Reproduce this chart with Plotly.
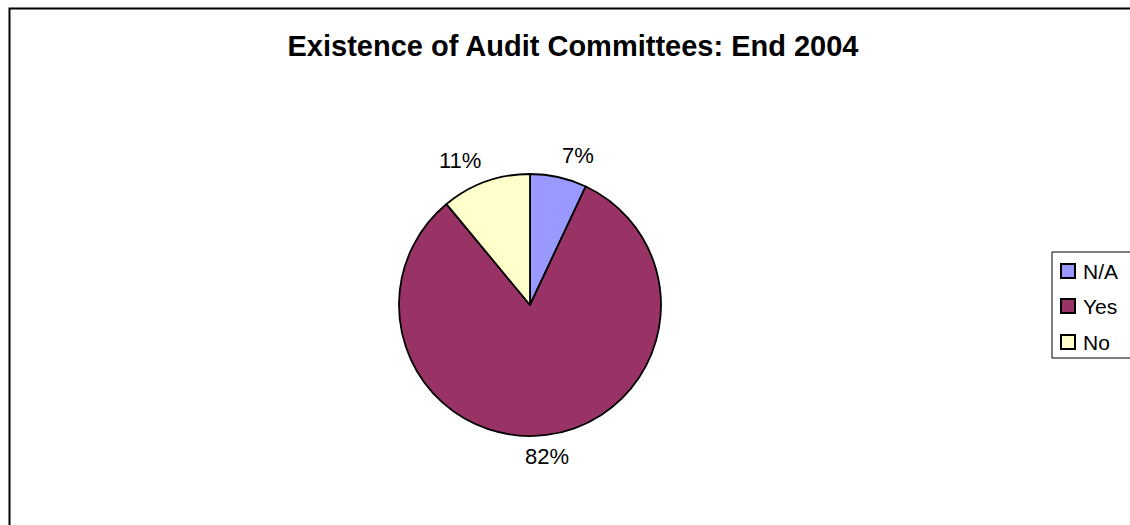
import math
import plotly.graph_objects as go

# Survey answers on audit committees, end of 2004
categories = ["N/A", "Yes", "No"]
shares = [7, 82, 11]
colors = ["#9999FF", "#993366", "#FFFFCC"]

W, H = 1130, 525
cx, cy, r = 530, 305, 131  # pie centre and radius in pixels
FONT = "Liberation Sans, Arial"


def px(x):
    return x / W


def py(y):
    return 1 - y / H


fig = go.Figure(
    go.Pie(
        labels=categories,
        values=shares,
        sort=False,
        direction="clockwise",
        rotation=0,
        marker=dict(colors=colors, line=dict(color="black", width=1.8)),
        textinfo="none",
        hoverinfo="label+percent",
        domain=dict(x=[px(cx - r), px(cx + r)], y=[py(cy + r), py(cy - r)]),
        showlegend=False,
    )
)

# percentage labels anchored just outside each slice's mid-angle
total = sum(shares)
start = 0.0
annotations = []
for cat, v in zip(categories, shares):
    frac = v / total
    mid = (start + frac / 2) * 2 * math.pi
    start += frac
    s, c = math.sin(mid), math.cos(mid)
    dist = r + 7
    xa = "left" if s > 0.2 else ("right" if s < -0.2 else "center")
    ya = "bottom" if c > 0 else "top"
    annotations.append(dict(
        x=px(cx + dist * s), y=py(cy - dist * c),
        xref="paper", yref="paper",
        text=f"{round(frac * 100)}%", showarrow=False,
        xanchor=xa, yanchor=ya,
        font=dict(family=FONT, size=22, color="black"),
    ))

# legend box with square swatches
shapes = [dict(
    type="rect", xref="paper", yref="paper",
    x0=px(1052), x1=1.05, y0=py(358), y1=py(252),
    line=dict(color="black", width=1), fillcolor="white", layer="above",
)]
row_y = [271, 306, 342]
for cat, col, yy in zip(categories, colors, row_y):
    shapes.append(dict(
        type="rect", xref="paper", yref="paper",
        x0=px(1061), x1=px(1075), y0=py(yy + 7), y1=py(yy - 7),
        line=dict(color="black", width=2), fillcolor=col, layer="above",
    ))
    annotations.append(dict(
        x=px(1081), y=py(yy), xref="paper", yref="paper",
        text=cat, showarrow=False, xanchor="left", yanchor="middle",
        font=dict(family=FONT, size=21, color="black"),
    ))

# outer chart frame
shapes.append(dict(
    type="rect", xref="paper", yref="paper",
    x0=px(9.5), x1=1.05, y0=-0.05, y1=py(8.5),
    line=dict(color="black", width=2), fillcolor="rgba(0,0,0,0)",
    layer="above",
))

fig.update_layout(
    width=W, height=H,
    margin=dict(l=0, r=0, t=0, b=0),
    paper_bgcolor="white",
    plot_bgcolor="white",
    title=dict(
        text="<b>Existence of Audit Committees: End 2004</b>",
        x=px(573), xanchor="center", y=py(46), yanchor="middle",
        font=dict(family=FONT, size=29, color="black"),
    ),
    showlegend=False,
    annotations=annotations,
    shapes=shapes,
)

fig.write_html("out.html")
